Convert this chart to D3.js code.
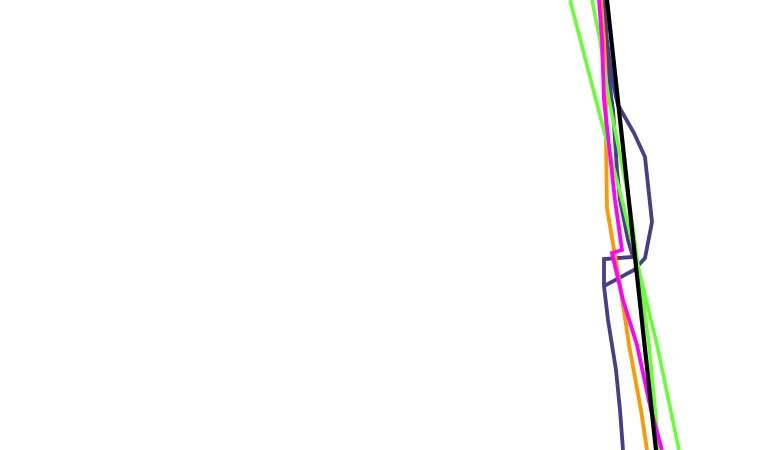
<!DOCTYPE html>
<html>
<head>
<meta charset="utf-8">
<script src="https://cdn.jsdelivr.net/npm/d3@7"></script>
<style>
  html, body { margin: 0; padding: 0; background: #fff; }
  svg { display: block; }
</style>
</head>
<body>
<svg id="chart" width="760" height="450"></svg>
<script>
// Each series: [value, level] pairs (values in chart units)
const purpleOuter = [[60.4,0],[60.7,4],[61.2,8],[61.8,10.5],[63.4,13.3],[64.5,15.7],[65.2,22.2],[64.5,25.8],[63.4,27],[60.4,28.6],[60.8,32],[61.6,37],[62.0,41],[62.3,45]];
const purpleInner = [[60.0,0],[60.4,4],[60.9,8],[61.3,11],[61.7,17],[62.0,20],[62.8,24],[63.3,25.7],[60.4,25.9],[60.4,28.6]];
const orange = [[60.1,0],[60.4,4],[60.6,8],[60.6,14],[60.7,20.8],[62.0,28.5],[62.9,34.5],[64.1,41],[64.7,45]];
const greenA = [[57.0,0],[59.6,10],[62.2,20],[65.7,34.5],[67.9,45]];
const greenB = [[59.2,0],[60.0,4],[60.9,10],[62.9,20],[64.9,34.5],[65.9,45]];
const magenta = [[59.9,0],[60.2,4],[60.4,10],[61.5,20],[62.2,25],[61.2,25.3],[62.3,30],[63.7,34.5],[65.1,41],[66.2,45]];
const black = [[60.7,0],[65.6,45]];

const series = [
  { data: purpleInner, color: "#483d8b", width: 3.8 },
  { data: purpleOuter, color: "#483d8b", width: 3.8 },
  { data: orange, color: "#ff9900", width: 3.8 },
  { data: greenA, color: "#66ff33", width: 3.6 },
  { data: greenB, color: "#66ff33", width: 3.6 },
  { data: magenta, color: "#ff00ff", width: 3.8 },
  { data: black, color: "#000000", width: 4.2 }
];

const svg = d3.select("#chart");
const x = d3.scaleLinear().domain([0, 76]).range([0, 760]);
const y = d3.scaleLinear().domain([0, 45]).range([0, 450]);

const line = d3.line().x(d => x(d[0])).y(d => y(d[1]));

svg.selectAll("path.series")
  .data(series)
  .join("path")
  .attr("class", "series")
  .attr("fill", "none")
  .attr("stroke", d => d.color)
  .attr("stroke-width", d => d.width)
  .attr("d", d => line(d.data));
</script>
</body>
</html>
